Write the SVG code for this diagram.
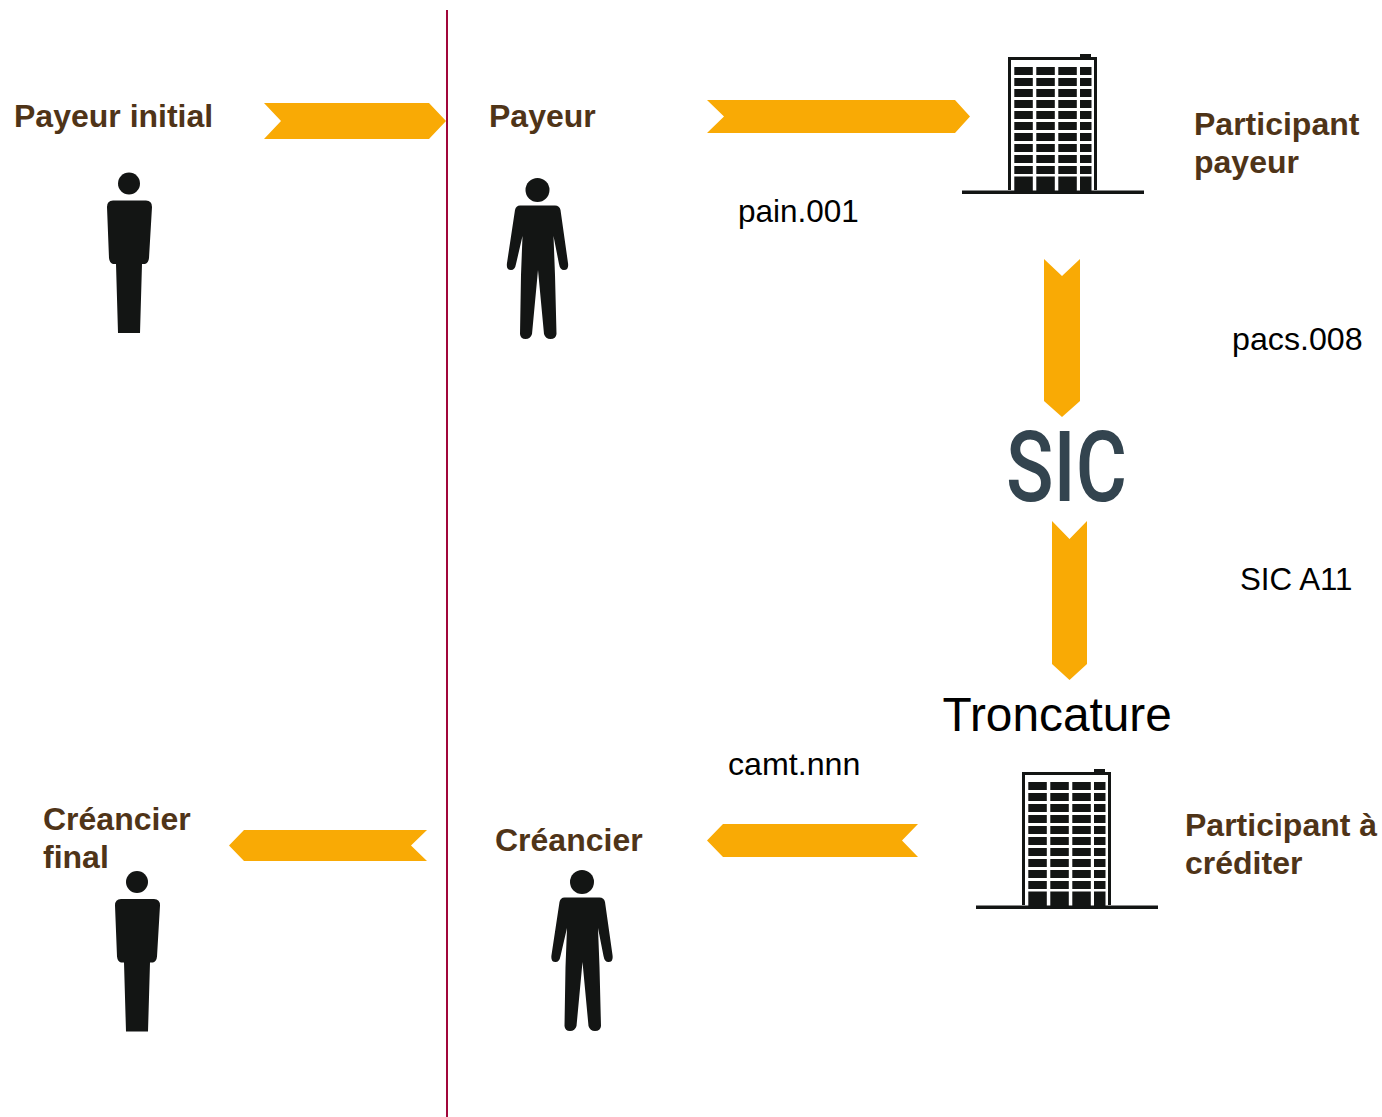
<svg xmlns="http://www.w3.org/2000/svg" xmlns:xlink="http://www.w3.org/1999/xlink" width="1382" height="1117" viewBox="0 0 1382 1117">
<style>
.arrow{fill:#f9aa05}
.ink{fill:#131514}
.lab{font-family:"Liberation Sans",Arial,sans-serif;font-weight:700;font-size:32px;fill:#4f3418}
.msg{font-family:"Liberation Sans",Arial,sans-serif;font-size:31.500px;fill:#000}
</style>
<defs>
<g id="building">
<path class="ink" fill-rule="evenodd" d="M1008 57H1080V54H1091V57H1097V190H1094V60H1011V190H1008Z"/>
<rect class="ink" x="962" y="190.500" width="182" height="3.500"/>
<path class="ink" d="M1014.300 67h18.500v8h-18.500zM1036.300 67h18.500v8h-18.500zM1058.300 67h18.500v8h-18.500zM1080 67h11.500v8h-11.500zM1014.300 78h18.500v8h-18.500zM1036.300 78h18.500v8h-18.500zM1058.300 78h18.500v8h-18.500zM1080 78h11.500v8h-11.500zM1014.300 89h18.500v8h-18.500zM1036.300 89h18.500v8h-18.500zM1058.300 89h18.500v8h-18.500zM1080 89h11.500v8h-11.500zM1014.300 100h18.500v8h-18.500zM1036.300 100h18.500v8h-18.500zM1058.300 100h18.500v8h-18.500zM1080 100h11.500v8h-11.500zM1014.300 111h18.500v8h-18.500zM1036.300 111h18.500v8h-18.500zM1058.300 111h18.500v8h-18.500zM1080 111h11.500v8h-11.500zM1014.300 122h18.500v8h-18.500zM1036.300 122h18.500v8h-18.500zM1058.300 122h18.500v8h-18.500zM1080 122h11.500v8h-11.500zM1014.300 133h18.500v8h-18.500zM1036.300 133h18.500v8h-18.500zM1058.300 133h18.500v8h-18.500zM1080 133h11.500v8h-11.500zM1014.300 144h18.500v8h-18.500zM1036.300 144h18.500v8h-18.500zM1058.300 144h18.500v8h-18.500zM1080 144h11.500v8h-11.500zM1014.300 155h18.500v8h-18.500zM1036.300 155h18.500v8h-18.500zM1058.300 155h18.500v8h-18.500zM1080 155h11.500v8h-11.500zM1014.300 166h18.500v8h-18.500zM1036.300 166h18.500v8h-18.500zM1058.300 166h18.500v8h-18.500zM1080 166h11.500v8h-11.500zM1014.300 176.500h18.500v15h-18.500zM1036.300 176.500h18.500v15h-18.500zM1058.300 176.500h18.500v15h-18.500zM1080 176.500h11.500v15h-11.500z"/>
</g>
<g id="personPlain">
<circle class="ink" cx="129" cy="183.500" r="11"/>
<path class="ink" d="M113 200.500H146Q152 200.500 152 207L149 258Q148.500 263 145 264H142L140 333H118L116 264H113Q109.500 263 109 258L107 207Q107 200.500 113 200.500Z"/>
</g>
<g id="personArms">
<circle class="ink" cx="537.500" cy="190" r="12"/>
<path class="ink" d="M520 205.500H555Q559.500 205.500 560.500 210L568 263Q569 270 564 270Q560 270 559 264L553.500 236L555 275L556.500 334Q556 339 550.500 339Q545.500 339 544 334L538 270L532 334Q530.500 339 525.500 339Q520.500 339 520 334L521 275L522.500 236L516 264Q515 270 511 270Q506 270 507 263L515 210Q516 205.500 520 205.500Z"/>
</g>
</defs>
<g id="connectors">
<rect x="446" y="10" width="2" height="1107" fill="#a1073a"/>
<polygon class="arrow" points="264,103 429,103 446,121 429,139 264,139 281,121"/>
<polygon class="arrow" points="707,100 955,100 970,116.500 955,133 707,133 724,116.500"/>
<polygon class="arrow" points="1044,259 1062,276 1080,259 1080,401 1062,417 1044,401"/>
<polygon class="arrow" points="1052,521 1069.500,539 1087,521 1087,664 1069.500,680 1052,664"/>
<polygon class="arrow" points="918,824 723,824 707,840.500 723,857 918,857 902,840.500"/>
<polygon class="arrow" points="427,830 244,830 229,845.500 244,861 427,861 411,845.500"/>
</g>
<g id="payeur-initial"><text class="lab" x="14" y="127">Payeur initial</text><use href="#personPlain"/></g>
<g id="payeur"><text class="lab" x="489" y="127">Payeur</text><use href="#personArms"/></g>
<g id="participant-payeur"><use href="#building"/><text class="lab" x="1194" y="135">Participant</text><text class="lab" x="1194" y="173">payeur</text></g>
<g id="sic"><text transform="translate(1006 501) scale(0.8 1)" font-family="Roboto,'Liberation Sans',sans-serif" font-weight="500" font-size="98" fill="#33444f">SIC</text></g>
<g id="troncature"><text x="942.500" y="731" font-family="'Liberation Sans',Arial,sans-serif" font-size="47.800" fill="#000">Troncature</text></g>
<g id="participant-crediter"><use href="#building" transform="translate(14 715)"/><text class="lab" x="1185" y="836">Participant à</text><text class="lab" x="1185" y="874">créditer</text></g>
<g id="creancier"><text class="lab" x="495" y="851">Créancier</text><use href="#personArms" transform="translate(44.500 692)"/></g>
<g id="creancier-final"><text class="lab" x="43" y="830">Créancier</text><text class="lab" x="43" y="868">final</text><use href="#personPlain" transform="translate(8 698.500)"/></g>
<g id="labels">
<text class="msg" x="738" y="222">pain.001</text>
<text class="msg" x="1232" y="349.500" font-size="32" style="font-size:32.200px">pacs.008</text>
<text class="msg" x="1240" y="590" style="font-size:31.300px">SIC A11</text>
<text class="msg" x="728" y="774.500" style="font-size:32.200px">camt.nnn</text>
</g>
</svg>
